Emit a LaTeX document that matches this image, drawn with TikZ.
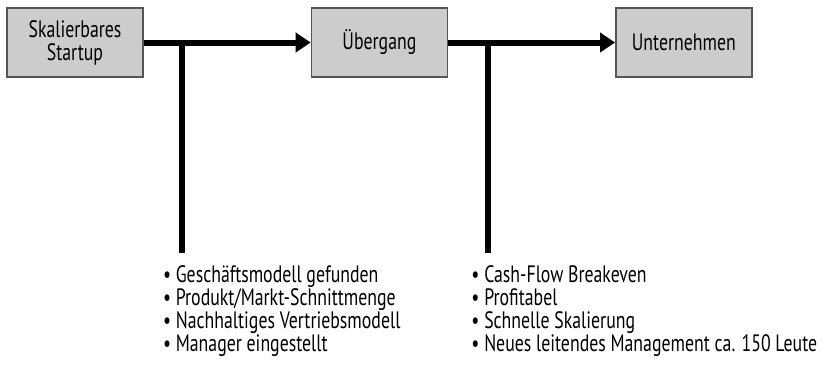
\documentclass[tikz,border=0pt]{standalone}
\usepackage{fontspec}
\setmainfont[FakeStretch=0.75]{PT Sans}
\usetikzlibrary{positioning,arrows.meta}
\definecolor{boxgray}{RGB}{204,204,204}
\definecolor{boxline}{RGB}{85,85,85}
\tikzset{
  phase/.style={draw=boxline,fill=boxgray,line width=0.8pt,minimum width=2.72cm,minimum height=1.38cm,align=center,inner sep=2pt},
  flow/.style={line width=0.12cm,-{Triangle[length=0.3cm,width=0.38cm]}},
  branch/.style={line width=0.12cm},
  points/.style={align=left,inner sep=0pt},
}
\begin{document}
\begin{tikzpicture}[font=\fontsize{13.5}{13.1}\selectfont]
  \useasboundingbox (0,0) rectangle (16.5,7.32);
  %% phases
  \node[phase] (startup) at (1.5,6.47) {Skalierbares\\Startup};
  \node[phase,right=3.34cm of startup] (uebergang) {Übergang};
  \node[phase,right=3.34cm of uebergang] (unternehmen) {Unternehmen};
  %% arrows
  \draw[flow] (startup) -- (uebergang);
  \draw[flow] (uebergang) -- (unternehmen);
  %% branches
  \coordinate (b1) at ([xshift=0.76cm]startup.east);
  \coordinate (e1) at ([yshift=-4.21cm]b1);
  \draw[branch] (b1) -- (e1);
  \coordinate (b2) at ([xshift=0.80cm]uebergang.east);
  \coordinate (e2) at ([yshift=-4.21cm]b2);
  \draw[branch] (b2) -- (e2);
  %% milestones
  \node[points,below right=0.24cm and -0.38cm of e1] (ziele1) {• Geschäftsmodell gefunden\\• Produkt/Markt-Schnittmenge\\• Nachhaltiges Vertriebsmodell\\• Manager eingestellt};
  \node[points,below right=0.24cm and -0.34cm of e2] (ziele2) {• Cash-Flow Breakeven\\• Profitabel\\• Schnelle Skalierung\\• Neues leitendes Management ca. 150 Leute};
\end{tikzpicture}
\end{document}
